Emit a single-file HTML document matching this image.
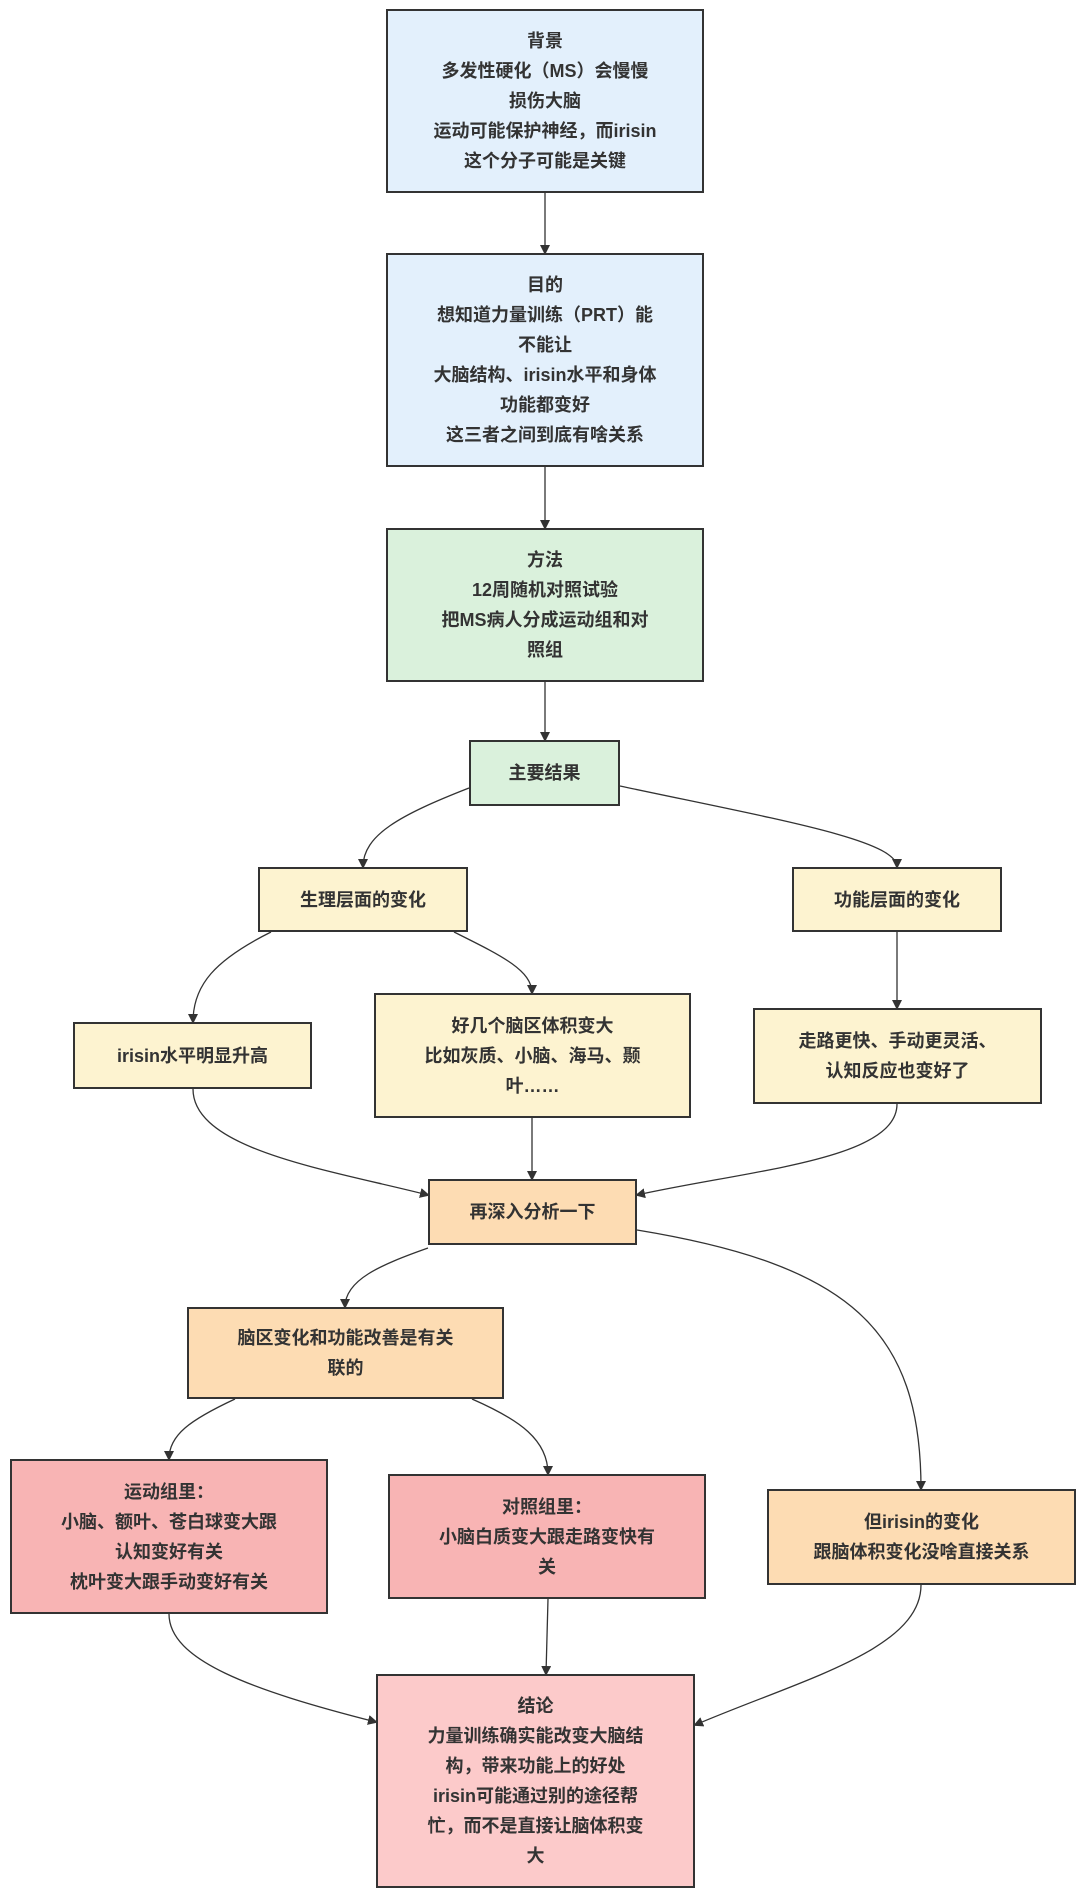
<!DOCTYPE html>
<html><head><meta charset="utf-8"><style>
body{margin:0;background:#fff;width:1080px;height:1895px;position:relative;overflow:hidden;font-family:"Liberation Sans","Noto Sans CJK SC",sans-serif;}
.b{position:absolute;box-sizing:border-box;border:2.5px solid #333;display:flex;align-items:center;justify-content:center;text-align:center;font-weight:bold;font-size:18px;line-height:30px;color:#333;padding:0 10px;}
.bl{background:#e3f0fc}.gr{background:#daf1dc}.ye{background:#fdf3d0}.or{background:#fddcb3}.rd{background:#f8b4b4}.pk{background:#fccaca}
svg{position:absolute;left:0;top:0}
</style></head><body>
<svg width="1080" height="1895">
<defs><marker id="a" markerWidth="10" markerHeight="10" refX="8" refY="5" orient="auto" markerUnits="userSpaceOnUse"><path d="M0,0 L10,5 L0,10 z" fill="#333"/></marker></defs>
<g fill="none" stroke="#333" stroke-width="1.3" marker-end="url(#a)">
<path d="M545,193 L545,253"/>
<path d="M545,467 L545,528"/>
<path d="M545,682 L545,740"/>
<path d="M469,788 C400,815 363,835 363,867"/>
<path d="M620,786 C780,820 897,840 897,867"/>
<path d="M271,932 C215,960 193,985 193,1022"/>
<path d="M454,932 C500,955 532,970 532,993"/>
<path d="M897,932 L897,1008"/>
<path d="M193,1089 C193,1150 330,1170 428,1195"/>
<path d="M532,1118 L532,1179"/>
<path d="M897,1104 C897,1160 750,1170 637,1195"/>
<path d="M428,1248 C380,1265 345,1280 345,1307"/>
<path d="M637,1230 C850,1265 921,1330 921,1489"/>
<path d="M235,1399 C190,1420 169,1435 169,1459"/>
<path d="M472,1399 C520,1420 548,1440 548,1474"/>
<path d="M169,1614 C169,1660 250,1690 376,1722"/>
<path d="M548,1599 L546,1674"/>
<path d="M921,1585 C921,1650 800,1680 695,1725"/>
</g></svg>
<div class="b bl" style="left:386px;top:9px;width:318px;height:184px">背景<br>多发性硬化（MS）会慢慢<br>损伤大脑<br>运动可能保护神经，而irisin<br>这个分子可能是关键</div>
<div class="b bl" style="left:386px;top:253px;width:318px;height:214px">目的<br>想知道力量训练（PRT）能<br>不能让<br>大脑结构、irisin水平和身体<br>功能都变好<br>这三者之间到底有啥关系</div>
<div class="b gr" style="left:386px;top:528px;width:318px;height:154px">方法<br>12周随机对照试验<br>把MS病人分成运动组和对<br>照组</div>
<div class="b gr" style="left:469px;top:740px;width:151px;height:66px">主要结果</div>
<div class="b ye" style="left:258px;top:867px;width:210px;height:65px">生理层面的变化</div>
<div class="b ye" style="left:792px;top:867px;width:210px;height:65px">功能层面的变化</div>
<div class="b ye" style="left:73px;top:1022px;width:239px;height:67px">irisin水平明显升高</div>
<div class="b ye" style="left:374px;top:993px;width:317px;height:125px">好几个脑区体积变大<br>比如灰质、小脑、海马、颞<br>叶……</div>
<div class="b ye" style="left:753px;top:1008px;width:289px;height:96px">走路更快、手动更灵活、<br>认知反应也变好了</div>
<div class="b or" style="left:428px;top:1179px;width:209px;height:66px">再深入分析一下</div>
<div class="b or" style="left:187px;top:1307px;width:317px;height:92px">脑区变化和功能改善是有关<br>联的</div>
<div class="b rd" style="left:10px;top:1459px;width:318px;height:155px">运动组里：<br>小脑、额叶、苍白球变大跟<br>认知变好有关<br>枕叶变大跟手动变好有关</div>
<div class="b rd" style="left:388px;top:1474px;width:318px;height:125px">对照组里：<br>小脑白质变大跟走路变快有<br>关</div>
<div class="b or" style="left:767px;top:1489px;width:309px;height:96px">但irisin的变化<br>跟脑体积变化没啥直接关系</div>
<div class="b pk" style="left:376px;top:1674px;width:319px;height:214px">结论<br>力量训练确实能改变大脑结<br>构，带来功能上的好处<br>irisin可能通过别的途径帮<br>忙，而不是直接让脑体积变<br>大</div>
</body></html>
